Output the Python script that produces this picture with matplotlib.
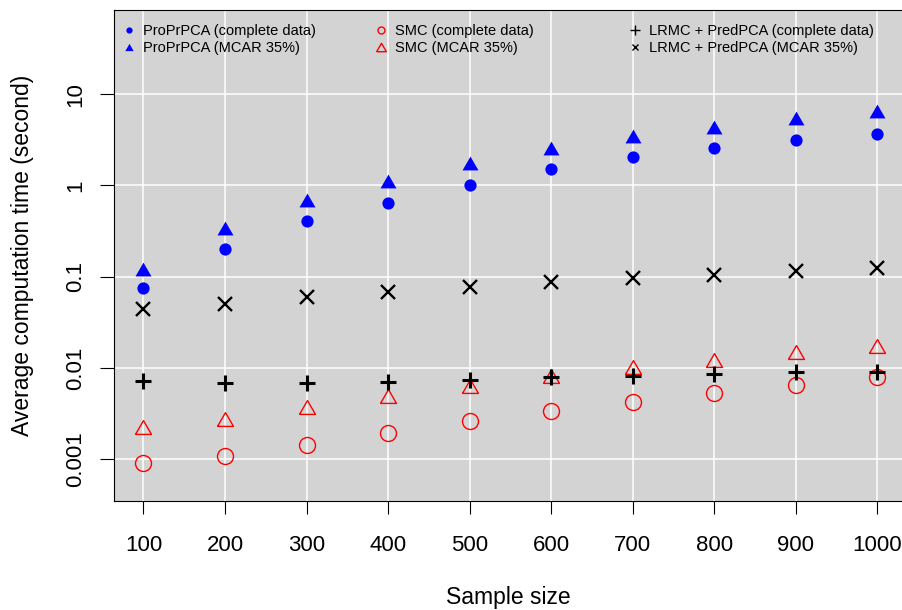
import matplotlib
matplotlib.use('Agg')
import matplotlib.pyplot as plt
from matplotlib.lines import Line2D

matplotlib.rcParams['font.family'] = ['Liberation Sans', 'DejaVu Sans']

# data
sample_size = [100, 200, 300, 400, 500, 600, 700, 800, 900, 1000]
proprpca_complete = [0.075, 0.20, 0.41, 0.64, 1.0, 1.53, 2.07, 2.60, 3.18, 3.70]
proprpca_mcar = [0.121, 0.34, 0.69, 1.13, 1.78, 2.60, 3.52, 4.41, 5.53, 6.60]
smc_complete = [0.00091, 0.00108, 0.00144, 0.00195, 0.00259, 0.00336, 0.00422, 0.00529, 0.00652, 0.00791]
smc_mcar = [0.00225, 0.00277, 0.00372, 0.00491, 0.00625, 0.00811, 0.0102, 0.0123, 0.0149, 0.0175]
lrmc_complete = [0.00726, 0.00686, 0.00686, 0.00698, 0.00745, 0.00791, 0.00824, 0.00859, 0.00897, 0.0089]
lrmc_mcar = [0.0441, 0.050, 0.0593, 0.0672, 0.0762, 0.0877, 0.0956, 0.104, 0.114, 0.123]
y_ticks = [0.001, 0.01, 0.1, 1, 10]
y_tick_labels = ['0.001', '0.01', '0.1', '1', '10']
legend_labels = ['ProPrPCA (complete data)', 'ProPrPCA (MCAR 35%)',
                 'SMC (complete data)', 'SMC (MCAR 35%)',
                 'LRMC + PredPCA (complete data)', 'LRMC + PredPCA (MCAR 35%)']

# equilateral triangle like R's pch 2 / 17
tri = [(-1, -0.866), (1, -0.866), (0, 0.866), (-1, -0.866)]

fig = plt.figure(figsize=(9.03, 6.10), dpi=100)
ax = fig.add_axes([114.3 / 903, 1 - 501 / 610, 1 - 114.3 / 903, 491.5 / 610])
ax.set_facecolor('#D3D3D3')
ax.set_yscale('log')
ax.set_xlim(64.2, 1031.5)
ax.set_ylim(10 ** -3.46, 10 ** 1.929)

# white grid
for x in sample_size:
    ax.axvline(x, color='white', lw=1.1, zorder=1)
for y in y_ticks:
    ax.axhline(y, color='white', lw=1.1, zorder=1)

ax.plot(sample_size, proprpca_complete, ls='none', marker='o', ms=8.8, color='blue', mec='none', zorder=3)
ax.plot(sample_size, proprpca_mcar, ls='none', marker=tri, ms=11.5, color='blue', mec='none', zorder=3)
ax.plot(sample_size, smc_complete, ls='none', marker='o', ms=11.5, mfc='none', mec='red', mew=1.0, zorder=3)
ax.plot(sample_size, smc_mcar, ls='none', marker=tri, ms=11.5, mfc='none', mec='red', mew=1.0, zorder=3)
ax.plot(sample_size, lrmc_complete, ls='none', marker='+', ms=11.5, mec='black', mew=2.2, zorder=4)
ax.plot(sample_size, lrmc_mcar, ls='none', marker='x', ms=10.5, mec='black', mew=1.7, zorder=4)

# axes, ticks, labels
ax.set_xticks(sample_size)
ax.set_xticklabels([str(v) for v in sample_size])
ax.set_yticks(y_ticks)
ax.set_yticklabels(y_tick_labels)
ax.minorticks_off()
ax.tick_params(axis='x', length=9.4, width=0.8, pad=15, labelsize=16)
ax.tick_params(axis='y', length=10, width=0.8, pad=10, labelsize=16)
for lbl in ax.get_yticklabels():
    lbl.set_rotation(90)
    lbl.set_va('center')

ax.set_xlabel('Sample size', fontsize=16.5)
ax.set_ylabel('Average computation time (second)', fontsize=16.5)
ax.xaxis.set_label_coords(0.5, -0.173)
ax.yaxis.set_label_coords(-0.1024, 0.5)

ax.spines['right'].set_visible(False)
for s in ['left', 'bottom', 'top']:
    ax.spines[s].set_linewidth(0.8)
    ax.spines[s].set_color('black')

# legend: three columns, proxy handles with smaller symbols
handles = [
    Line2D([], [], ls='none', marker='o', ms=4.5, color='blue', mec='none'),
    Line2D([], [], ls='none', marker=tri, ms=6, color='blue', mec='none'),
    Line2D([], [], ls='none', marker='o', ms=5, mfc='none', mec='red', mew=1.0),
    Line2D([], [], ls='none', marker=tri, ms=7, mfc='none', mec='red', mew=1.0),
    Line2D([], [], ls='none', marker='+', ms=7, mec='black', mew=1.0),
    Line2D([], [], ls='none', marker='x', ms=5, mec='black', mew=1.0),
]
col_x = [121.7, 373.7, 627.7]
for i, x0 in enumerate(col_x):
    leg = fig.legend(handles[2 * i:2 * i + 2], legend_labels[2 * i:2 * i + 2],
                     loc='upper left', bbox_to_anchor=(x0 / 903, 1 - 24.0 / 610),
                     frameon=False, fontsize=10.5, handlelength=1.0, handletextpad=0.46,
                     borderpad=0, borderaxespad=0, labelspacing=0.2)

fig.savefig('out.png', dpi=100)
